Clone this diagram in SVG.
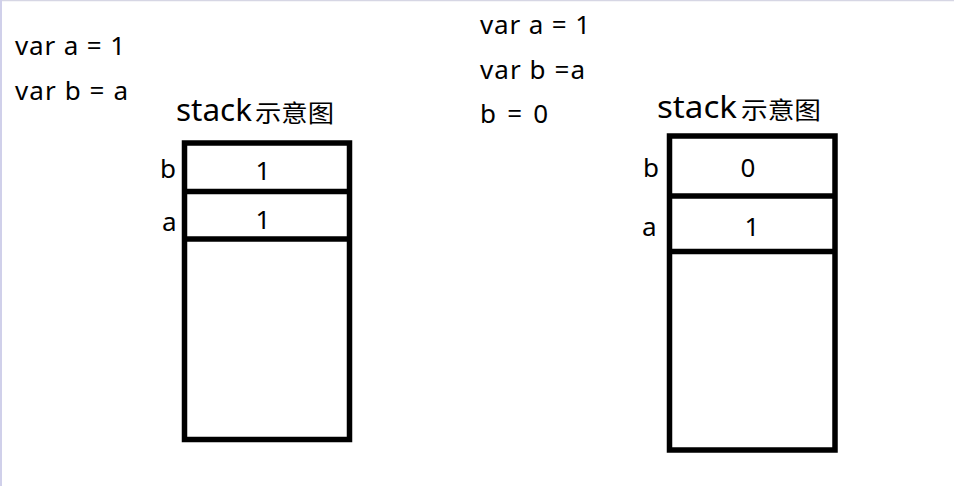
<svg xmlns="http://www.w3.org/2000/svg" width="954" height="486" viewBox="0 0 954 486">
<style>
.t{font-family:"Noto Sans","Noto Sans CJK SC",sans-serif;fill:#000}
.code{font-size:26px}
.lbl{font-size:26px}
.val{font-size:26px;text-anchor:middle}
.st{font-size:30px}
.cj{font-size:24px;font-family:"Noto Sans CJK SC",sans-serif}
.box{fill:#fff;stroke:#000;stroke-width:5.5}
.div{stroke:#000;stroke-width:5.5}
</style>
<rect x="0" y="0" width="954" height="486" fill="#fff"/>
<line x1="0" y1="0.5" x2="954" y2="0.5" stroke="#d6d6e4" stroke-width="1.5"/>
<line x1="1" y1="0" x2="1" y2="486" stroke="#d0d0ea" stroke-width="2"/>
<g id="code-left">
<text class="t code" x="15" y="55" textLength="110" lengthAdjust="spacing">var a = 1</text>
<text class="t code" x="15" y="100" textLength="113" lengthAdjust="spacing">var b = a</text>
</g>
<g id="code-right">
<text class="t code" x="480" y="34" textLength="110" lengthAdjust="spacing">var a = 1</text>
<text class="t code" x="480" y="79" textLength="105" lengthAdjust="spacing">var b =a</text>
<text class="t code" x="480" y="123" textLength="68" lengthAdjust="spacing">b = 0</text>
</g>
<g id="stack-left">
<text class="t st" x="176" y="121" textLength="76" lengthAdjust="spacingAndGlyphs">stack</text>
<text class="t cj" x="255" y="122" textLength="79" lengthAdjust="spacingAndGlyphs">示意图</text>
<rect class="box" x="184.5" y="143" width="165" height="296.5"/>
<line class="div" x1="184.5" y1="191.5" x2="349.5" y2="191.5"/>
<line class="div" x1="184.5" y1="239" x2="349.5" y2="239"/>
<text class="t lbl" x="160" y="178">b</text>
<text class="t lbl" x="162" y="231">a</text>
<text class="t val" x="263" y="180">1</text>
<text class="t val" x="263" y="229">1</text>
</g>
<g id="stack-right">
<text class="t st" x="657" y="118" textLength="80" lengthAdjust="spacingAndGlyphs">stack</text>
<text class="t cj" x="741" y="119" textLength="80" lengthAdjust="spacingAndGlyphs">示意图</text>
<rect class="box" x="669.5" y="136" width="165.5" height="314"/>
<line class="div" x1="669.5" y1="196" x2="835" y2="196"/>
<line class="div" x1="669.5" y1="251.5" x2="835" y2="251.5"/>
<text class="t lbl" x="643" y="177">b</text>
<text class="t lbl" x="642" y="236">a</text>
<text class="t val" x="748" y="177">0</text>
<text class="t val" x="752" y="236">1</text>
</g>
</svg>
